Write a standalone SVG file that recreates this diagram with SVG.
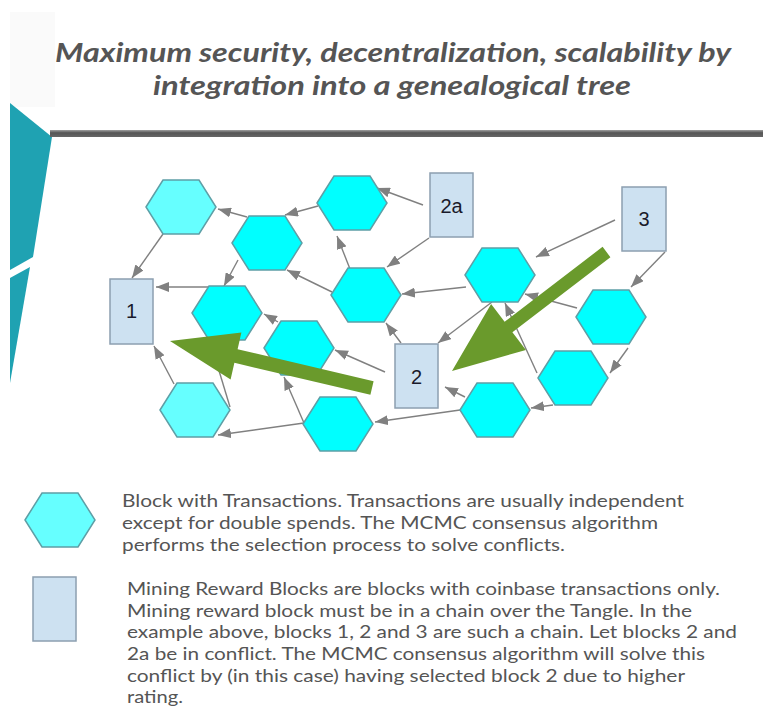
<svg xmlns="http://www.w3.org/2000/svg" xmlns:xlink="http://www.w3.org/1999/xlink" width="763" height="707" viewBox="0 0 763 707">
<style>
.title{font-family:Lato,"Liberation Sans",sans-serif;font-style:italic;font-weight:bold;font-size:27.5px;fill:#555;text-anchor:middle}
.legend{font-family:Lato,"Liberation Sans",sans-serif;font-size:18px;fill:#555}
.hex{fill:#00ffff;stroke:#5e9fa6;stroke-width:1.5}
.hexl{fill:#66ffff;stroke:#5e9fa6;stroke-width:1.5}
.box{fill:#cde1f1;stroke:#8c9fb0;stroke-width:1.5}
.lbl{font-family:"Liberation Sans",Arial,sans-serif;font-size:20px;fill:#1a1a2a;text-anchor:middle}
.edge{stroke:#808080;stroke-width:1.4;fill:none;marker-end:url(#ah)}
.green{fill:#6a9a2c}
</style>
<defs>
<marker id="ah" viewBox="0 0 13 10" refX="13" refY="5" markerWidth="13" markerHeight="10" orient="auto" markerUnits="userSpaceOnUse"><path d="M0,0 L13,5 L0,10 z" fill="#808080"/></marker>
<polygon id="hexshape" points="-35,0 -18,-27 18,-27 35,0 18,27 -18,27"/>
<linearGradient id="bar" x1="0" y1="0" x2="0" y2="1"><stop offset="0" stop-color="#a0a0a0"/><stop offset="0.4" stop-color="#555"/><stop offset="1" stop-color="#666"/></linearGradient>
</defs>
<rect width="763" height="707" fill="#fff"/>
<rect x="10" y="12" width="45" height="95" fill="#fafafa"/>
<polygon points="10,103 52,137 33,257 10,270" fill="#1fa2b2"/>
<polygon points="10,278 30,267 10,383" fill="#1fa2b2"/>
<rect x="50" y="130" width="713" height="7" fill="url(#bar)"/>
<text class="title" x="393" y="62" textLength="676" lengthAdjust="spacingAndGlyphs">Maximum security, decentralization, scalability by</text>
<text class="title" x="392" y="95" textLength="478" lengthAdjust="spacingAndGlyphs">integration into a genealogical tree</text>
<g id="connectors">
<line class="edge" x1="247" y1="217" x2="218" y2="209"/>
<line class="edge" x1="318" y1="206" x2="285" y2="215"/>
<line class="edge" x1="163" y1="234" x2="132" y2="278"/>
<line class="edge" x1="238" y1="260" x2="224" y2="286"/>
<line class="edge" x1="212" y1="287" x2="156" y2="287"/>
<line class="edge" x1="332" y1="292" x2="287" y2="270"/>
<line class="edge" x1="350" y1="269" x2="337" y2="236"/>
<line class="edge" x1="423" y1="205" x2="377" y2="188"/>
<line class="edge" x1="429" y1="238" x2="387" y2="267"/>
<line class="edge" x1="466" y1="287" x2="402" y2="294"/>
<line class="edge" x1="615" y1="220" x2="536" y2="257"/>
<line class="edge" x1="665" y1="252" x2="631" y2="287"/>
<line class="edge" x1="577" y1="308" x2="525" y2="294"/>
<line class="edge" x1="628" y1="348" x2="610" y2="373"/>
<line class="edge" x1="553" y1="405" x2="531" y2="408"/>
<line class="edge" x1="537" y1="373" x2="505" y2="303"/>
<line class="edge" x1="492" y1="302" x2="438" y2="343"/>
<line class="edge" x1="401" y1="343" x2="386" y2="323"/>
<line class="edge" x1="385" y1="372" x2="335" y2="350"/>
<line class="edge" x1="465" y1="397" x2="445" y2="387"/>
<line class="edge" x1="460" y1="410" x2="375" y2="422"/>
<line class="edge" x1="304" y1="423" x2="284" y2="377"/>
<line class="edge" x1="304" y1="423" x2="218" y2="435"/>
<line class="edge" x1="174" y1="384" x2="154" y2="346"/>
<line class="edge" x1="278" y1="322" x2="264" y2="314"/>
<line class="edge" x1="230" y1="407" x2="210" y2="341"/>
</g>
<g id="h1"><use xlink:href="#hexshape" class="hexl" x="181" y="207"/></g>
<g id="h2"><use xlink:href="#hexshape" class="hex" x="267" y="243"/></g>
<g id="h3"><use xlink:href="#hexshape" class="hex" x="352" y="203"/></g>
<g id="h4"><use xlink:href="#hexshape" class="hex" x="366" y="295"/></g>
<g id="h5"><use xlink:href="#hexshape" class="hex" x="500" y="275"/></g>
<g id="h6"><use xlink:href="#hexshape" class="hex" x="611" y="317"/></g>
<g id="h7"><use xlink:href="#hexshape" class="hex" x="573" y="378"/></g>
<g id="h8"><use xlink:href="#hexshape" class="hex" x="495" y="410"/></g>
<g id="h9"><use xlink:href="#hexshape" class="hex" x="227" y="313"/></g>
<g id="h10"><use xlink:href="#hexshape" class="hex" x="299" y="348"/></g>
<g id="h11"><use xlink:href="#hexshape" class="hexl" x="195" y="410"/></g>
<g id="h12"><use xlink:href="#hexshape" class="hex" x="338" y="424"/></g>
<g id="b1"><rect class="box" x="110" y="279" width="43" height="65"/><text class="lbl" x="131.5" y="318">1</text></g>
<g id="b2a"><rect class="box" x="430" y="173" width="43" height="64"/><text class="lbl" x="451.5" y="213">2a</text></g>
<g id="b3"><rect class="box" x="622" y="187" width="44" height="64"/><text class="lbl" x="644" y="226">3</text></g>
<g id="b2"><rect class="box" x="395" y="344" width="43" height="64"/><text class="lbl" x="416.5" y="384">2</text></g>
<g id="green-arrows">
<polygon class="green" points="373.6,381.2 237.6,349.2 241.4,332.6 170,341 230.6,379.4 234.4,362.8 370.4,394.8"/>
<polygon class="green" points="610.4,257.2 512.4,332.2 525.9,350 452,371 491.1,304 504.6,321.8 602.6,246.8"/>
</g>
<g id="legend-hex"><use xlink:href="#hexshape" class="hexl" x="60" y="520"/></g>
<g id="legend-box"><rect class="box" x="33" y="577" width="43" height="64"/></g>
<g id="legend-text">
<text class="legend" x="122" y="507" textLength="562" lengthAdjust="spacingAndGlyphs">Block with Transactions. Transactions are usually independent</text>
<text class="legend" x="122" y="529" textLength="536" lengthAdjust="spacingAndGlyphs">except for double spends. The MCMC consensus algorithm</text>
<text class="legend" x="122" y="551" textLength="443" lengthAdjust="spacingAndGlyphs">performs the selection process to solve conflicts.</text>
<text class="legend" x="127" y="595" textLength="593" lengthAdjust="spacingAndGlyphs">Mining Reward Blocks are blocks with coinbase transactions only.</text>
<text class="legend" x="127" y="617" textLength="565" lengthAdjust="spacingAndGlyphs">Mining reward block must be in a chain over the Tangle. In the</text>
<text class="legend" x="127" y="638" textLength="610" lengthAdjust="spacingAndGlyphs">example above, blocks 1, 2 and 3 are such a chain. Let blocks 2 and</text>
<text class="legend" x="127" y="660" textLength="578" lengthAdjust="spacingAndGlyphs">2a be in conflict. The MCMC consensus algorithm will solve this</text>
<text class="legend" x="127" y="682" textLength="558" lengthAdjust="spacingAndGlyphs">conflict by (in this case) having selected block 2 due to higher</text>
<text class="legend" x="127" y="703" textLength="56" lengthAdjust="spacingAndGlyphs">rating.</text>
</g>
</svg>
